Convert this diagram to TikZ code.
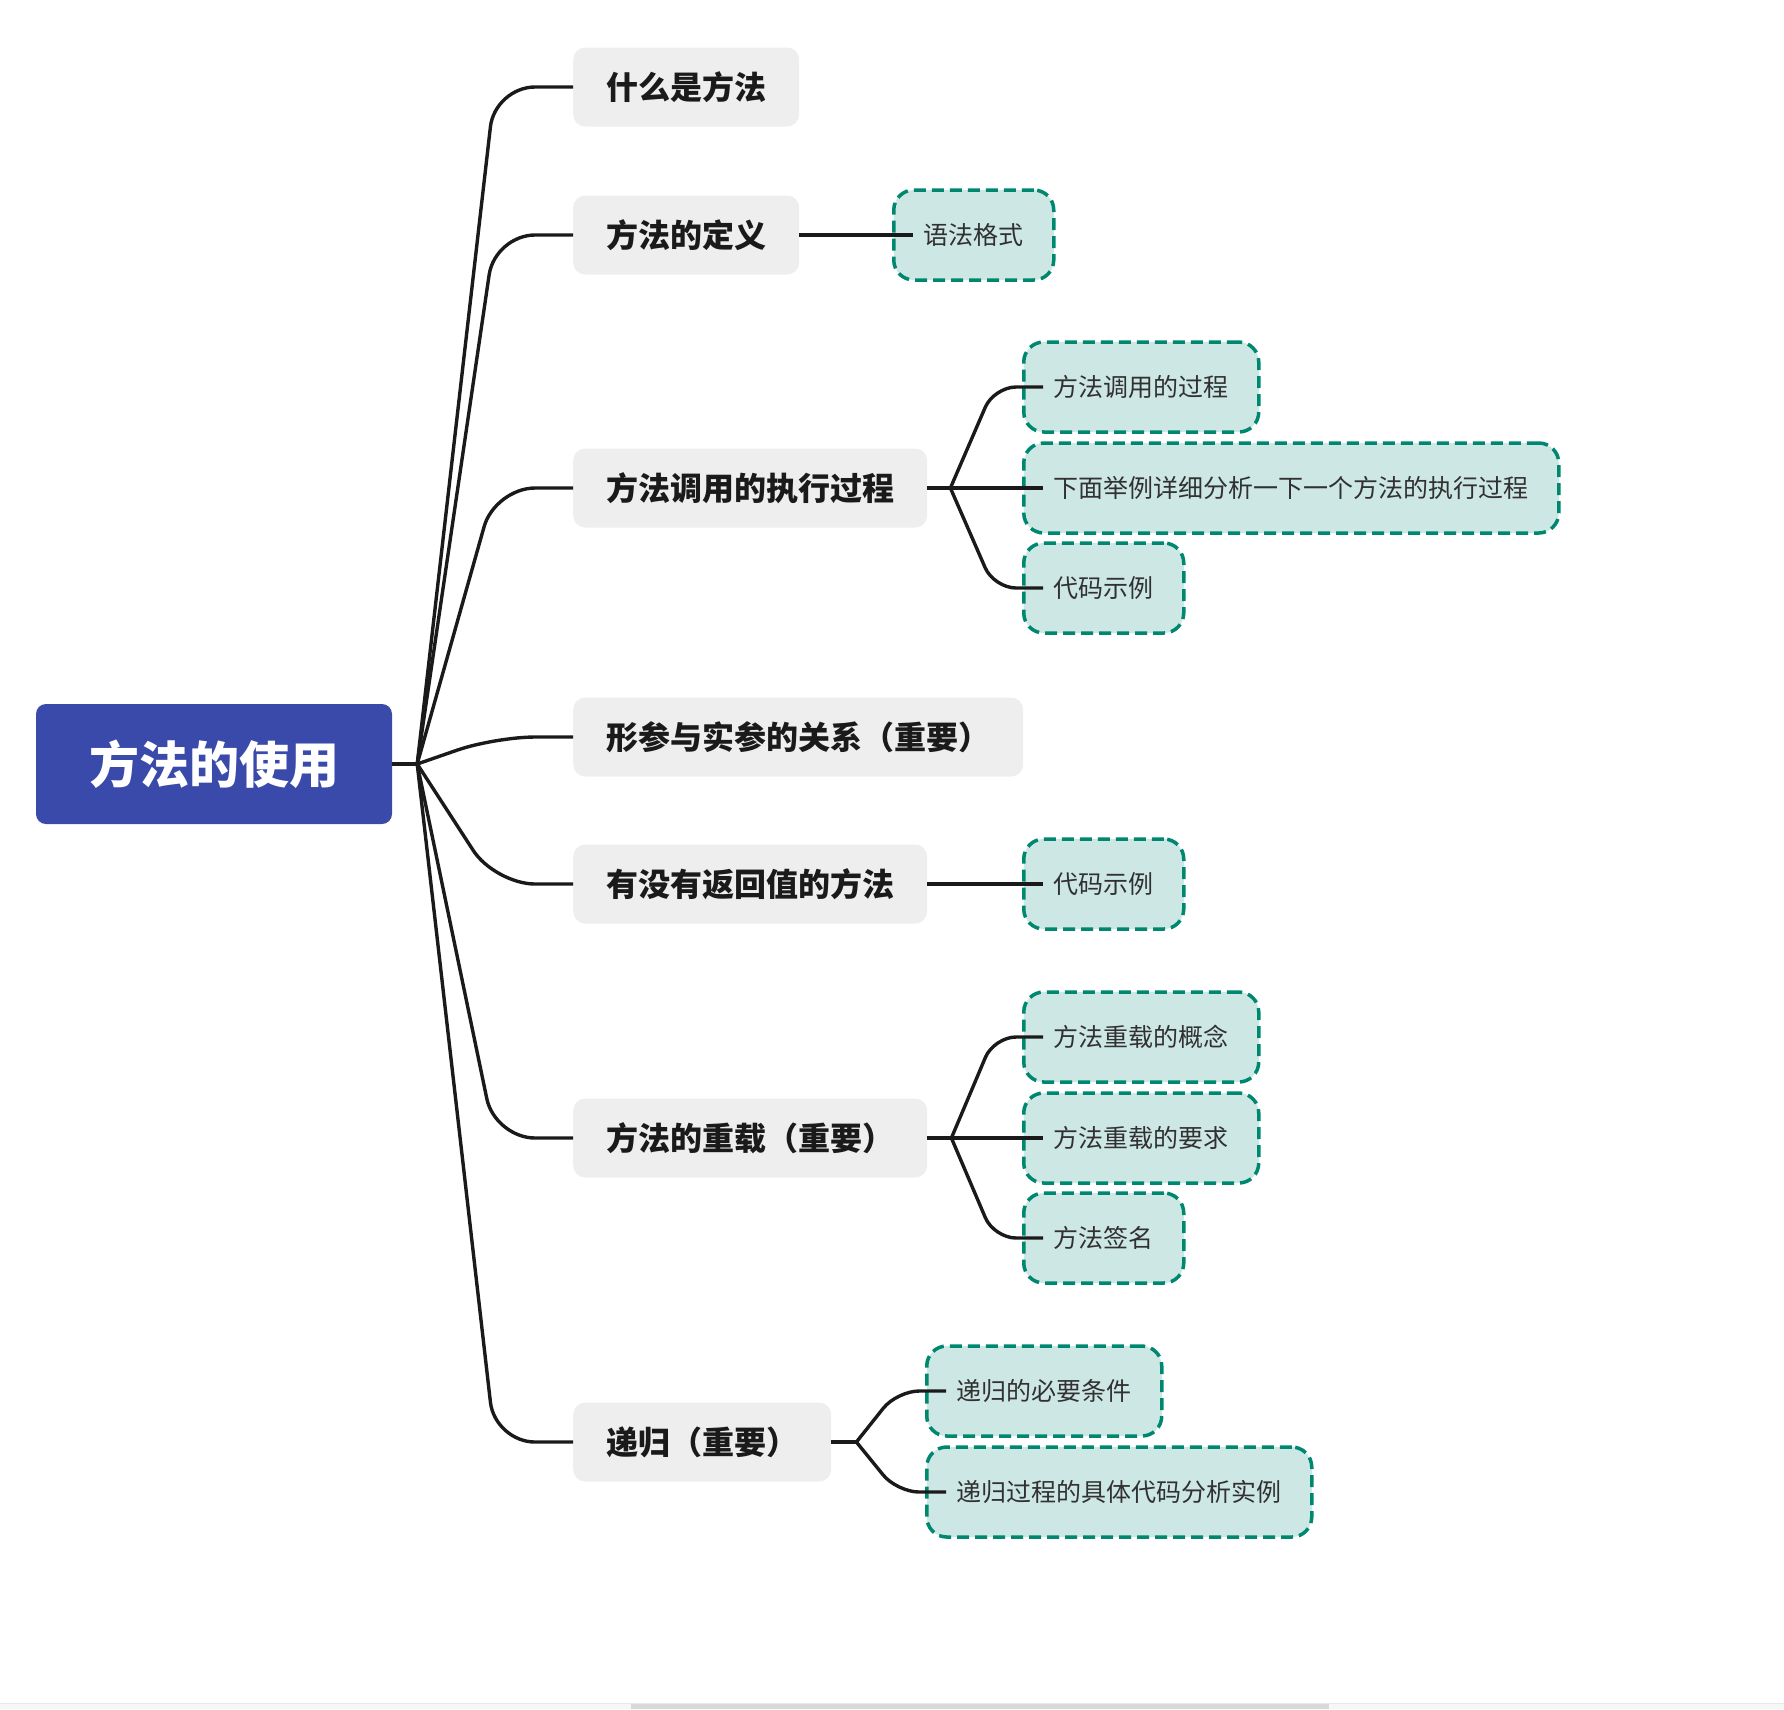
\documentclass[tikz,border=0pt]{standalone}
\usepackage{fontspec}
\newfontfamily\cjk{Noto Sans CJK SC}
\definecolor{rootblue}{HTML}{3A4AAA}
\definecolor{topicgray}{HTML}{EEEEEE}
\definecolor{subfill}{HTML}{CDE7E5}
\definecolor{subline}{HTML}{00876F}
\definecolor{ink}{HTML}{1A1A1A}
\tikzset{
  rootbox/.style={fill=rootblue,rounded corners=10pt,minimum width=356pt,minimum height=120pt,text=white,font=\cjk\bfseries\fontsize{50}{60}\selectfont},
  topic/.style={anchor=west,fill=topicgray,rounded corners=12pt,minimum height=79pt,inner xsep=33pt,text=ink,font=\cjk\bfseries\fontsize{32}{38}\selectfont},
  subtopic/.style={anchor=west,fill=subfill,draw=subline,line width=3.5pt,dash pattern=on 12pt off 6pt,rounded corners=20pt,minimum height=90pt,inner xsep=30pt,text=ink!90,font=\cjk\fontsize{25}{30}\selectfont},
  link/.style={draw=ink,line width=3.4pt,rounded corners=40pt},
  sublink/.style={draw=ink,line width=3.4pt,rounded corners=22pt}
}
\begin{document}
\begin{tikzpicture}[x=1pt,y=-1pt]
  \useasboundingbox (0,0) rectangle (1784,1709);
  \node[rootbox] (root) at (214,764) {方法的使用};
  \node[topic] (whatis) at (573,87) {什么是方法};
  \node[topic] (define) at (573,235) {方法的定义};
  \node[topic] (callproc) at (573,488) {方法调用的执行过程};
  \node[topic] (params) at (573,737) {形参与实参的关系（重要）};
  \node[topic] (retval) at (573,884) {有没有返回值的方法};
  \node[topic] (overload) at (573,1138) {方法的重载（重要）};
  \node[topic] (recur) at (573,1442) {递归（重要）};
  \node[subtopic] (syntax) at (892,235) {语法格式};
  \node[subtopic] (callA) at (1022,387) {方法调用的过程};
  \node[subtopic] (callB) at (1022,488) {下面举例详细分析一下一个方法的执行过程};
  \node[subtopic] (callC) at (1022,588) {代码示例};
  \node[subtopic] (retcode) at (1022,884) {代码示例};
  \node[subtopic] (ovA) at (1022,1037) {方法重载的概念};
  \node[subtopic] (ovB) at (1022,1138) {方法重载的要求};
  \node[subtopic] (ovC) at (1022,1238) {方法签名};
  \node[subtopic] (recA) at (925,1391) {递归的必要条件};
  \node[subtopic] (recB) at (925,1492) {递归过程的具体代码分析实例};
  \coordinate (hub) at ([xshift=25pt]root.east);
  \coordinate (callhub) at ([xshift=23pt]callproc.east);
  \coordinate (ovhub) at ([xshift=24pt]overload.east);
  \coordinate (rechub) at ([xshift=25pt]recur.east);
  \draw[link] (root.east) -- (hub);
  \foreach \t in {whatis,define,callproc,params,retval,overload,recur}
    \draw[link] (hub) -- ([xshift=-78pt]\t.west) -- (\t.west);
  \draw[link] (define.east) -- ([xshift=21pt]syntax.west);
  \draw[link] (retval.east) -- ([xshift=21pt]retcode.west);
  \draw[link] (callproc.east) -- (callhub);
  \draw[link] (overload.east) -- (ovhub);
  \draw[link] (recur.east) -- (rechub);
  \foreach \c in {callA,callB,callC}
    \draw[sublink] (callhub) -- ([xshift=-28pt]\c.west) -- ([xshift=21pt]\c.west);
  \foreach \c in {ovA,ovB,ovC}
    \draw[sublink] (ovhub) -- ([xshift=-28pt]\c.west) -- ([xshift=21pt]\c.west);
  \foreach \c in {recA,recB}
    \draw[sublink] (rechub) -- ([xshift=-28pt]\c.west) -- ([xshift=21pt]\c.west);
  \fill[black!3] (0,1703) rectangle (1784,1709);
  \fill[black!15] (631,1704) rectangle (1329,1709);
  \draw[black!9,line width=1pt] (0,1703) -- (1784,1703);
\end{tikzpicture}
\end{document}
